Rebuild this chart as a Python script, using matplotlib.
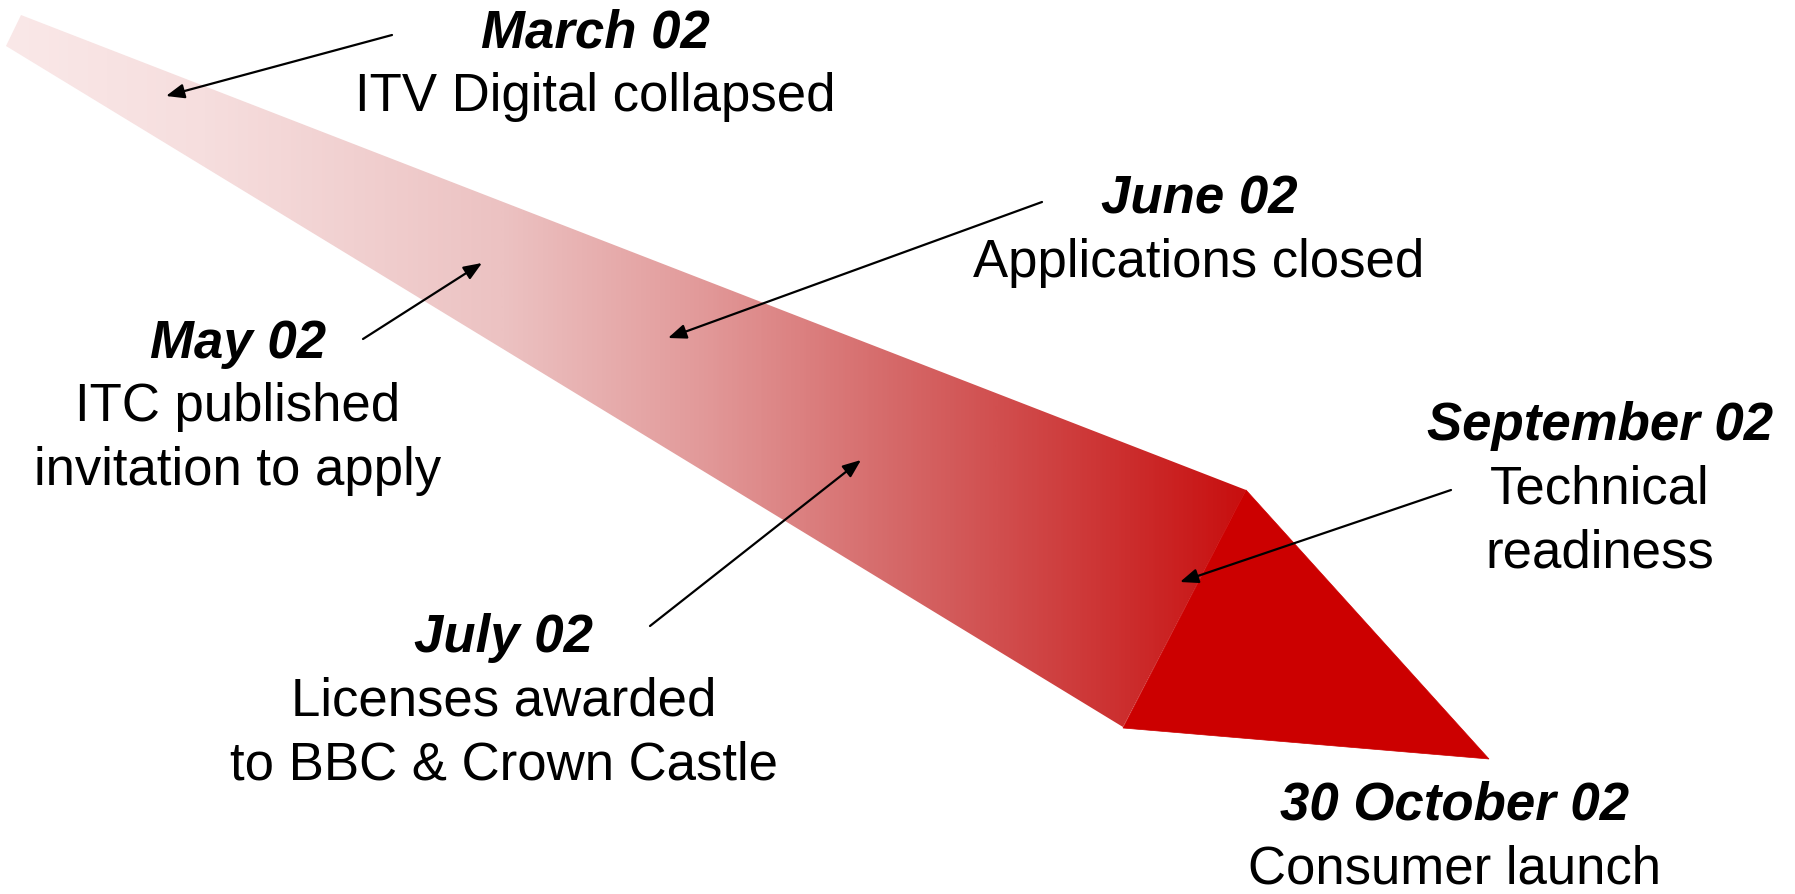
import numpy as np
import matplotlib
matplotlib.use("Agg")
import matplotlib.pyplot as plt
from matplotlib.patches import Polygon
from matplotlib.colors import LinearSegmentedColormap

# ---- content ----
dates = ["March 02", "May 02", "June 02", "July 02", "September 02", "30 October 02"]
descriptions = [
    ["ITV Digital collapsed"],
    ["ITC published", "invitation to apply"],
    ["Applications closed"],
    ["Licenses awarded", "to BBC & Crown Castle"],
    ["Technical", "readiness"],
    ["Consumer launch"],
]

# ---- layout (pixel coordinates, y downward) ----
label_x = [595, 238, 1199, 504, 1600, 1455]
label_y0 = [47, 358, 214, 652, 440, 820]          # baseline of the date line
line_step = 63.5
arrow_tail = [(392, 35), (363, 339), (1042, 202), (650, 626), (1451, 490), None]
arrow_head = [(166, 96), (482, 263), (668, 338), (861, 460), (1180, 582), None]

shaft = [(21, 15), (1246, 490), (1123, 727), (6, 46)]
head = [(1246, 490), (1489, 759), (1123, 728)]
grad_pos = [0.0, 0.16, 0.40, 0.56, 0.72, 0.88, 1.0]
grad_col = ["#fae8e8", "#f6dede", "#ecc2c2", "#e29a9a", "#d56868", "#cd3636", "#c80f0f"]
head_color = "#cc0000"

W, H = 1795, 894
fig = plt.figure(figsize=(W / 100, H / 100), dpi=100)
ax = fig.add_axes([0, 0, 1, 1])
ax.set_xlim(0, W)
ax.set_ylim(H, 0)
ax.axis("off")

# gradient shaft
cmap = LinearSegmentedColormap.from_list("g", list(zip(grad_pos, grad_col)))
xs = [p[0] for p in shaft]
ys = [p[1] for p in shaft]
grad = np.linspace(0, 1, 512)[None, :]
im = ax.imshow(grad, cmap=cmap, aspect="auto", interpolation="bilinear",
               extent=(min(xs), max(xs), max(ys), min(ys)), zorder=1)
shaft_patch = Polygon(shaft, closed=True, facecolor="none", edgecolor="none")
ax.add_patch(shaft_patch)
im.set_clip_path(shaft_patch)

ax.add_patch(Polygon(head, closed=True, facecolor=head_color, edgecolor=head_color,
                     lw=0.5, zorder=2))

font = "Liberation Sans"
fs = 38
for i, d in enumerate(dates):
    x = label_x[i]
    y = label_y0[i]
    ax.text(x, y, d, ha="center", va="baseline", fontsize=fs, family=font,
            fontweight="bold", fontstyle="italic", color="black", zorder=5)
    for j, line in enumerate(descriptions[i]):
        ax.text(x, y + line_step * (j + 1), line, ha="center", va="baseline",
                fontsize=fs, family=font, color="black", zorder=5)
    if arrow_tail[i] is not None:
        ax.annotate("", xy=arrow_head[i], xytext=arrow_tail[i],
                    arrowprops=dict(arrowstyle="-|>,head_length=0.55,head_width=0.22",
                                    mutation_scale=20, lw=1.6, color="black",
                                    shrinkA=0, shrinkB=0), zorder=6)

fig.savefig("out.png", dpi=100, facecolor="white")
